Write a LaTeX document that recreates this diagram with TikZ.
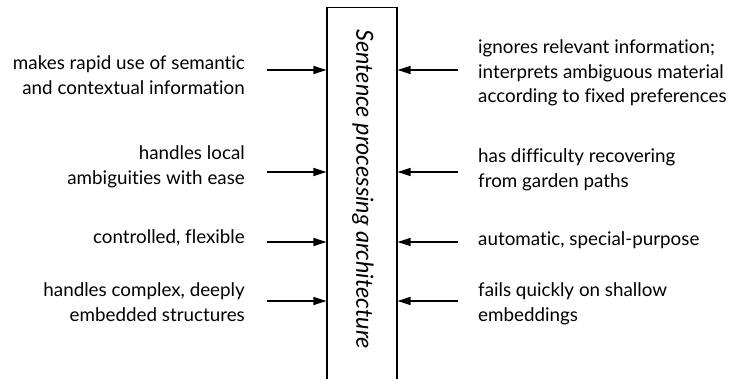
\documentclass[tikz,border=0pt]{standalone}
\usepackage{fontspec}
\setmainfont{Lato}[Ligatures=NoCommon]
\usetikzlibrary{arrows.meta}

\begin{document}
\begin{tikzpicture}[x=1pt,y=-1pt,
  feature/.style={inner sep=0pt,font=\fontsize{18.8}{24.5}\selectfont},
  leftfeat/.style={feature,anchor=east,align=right},
  rightfeat/.style={feature,anchor=west,align=left},
  archbox/.style={draw,line width=1.1pt,minimum width=70pt,minimum height=390pt,anchor=north},
  pointer/.style={line width=1.5pt,-{Triangle[length=13pt,width=8pt]}}]
  \useasboundingbox (0,0) rectangle (741,379);
  \clip (0,0) rectangle (741,379);

  \node[archbox] (arch) at (362,7) {};
  \node[rotate=-90,font=\fontsize{23.5}{25}\selectfont\itshape] (title) at (363,189)
    {Sentence processing architecture};

  % left column
  \node[leftfeat] (l1) at (245,75) {makes rapid use of semantic\\and contextual information};
  \node[leftfeat] (l2) at (245,167) {handles local\\ambiguities with ease};
  \node[leftfeat] (l3) at (245,238) {controlled, flexible};
  \node[leftfeat] (l4) at (245,302) {handles complex, deeply\\embedded structures};

  % right column
  \node[rightfeat] (r1) at (478,73) {ignores relevant information;\\interprets ambiguous material\\according to fixed preferences};
  \node[rightfeat] (r2) at (478,170) {has difficulty recovering\\from garden paths};
  \node[rightfeat] (r3) at (478,240) {automatic, special-purpose};
  \node[rightfeat] (r4) at (478,304) {fails quickly on shallow\\embeddings};

  \foreach \y [count=\i] in {70,172,242,301} {
    \coordinate (la\i) at (267,\y);
    \coordinate (ra\i) at (458,\y);
    \draw[pointer] (la\i) -- (la\i -| arch.west);
    \draw[pointer] (ra\i) -- (ra\i -| arch.east);
  }
\end{tikzpicture}
\end{document}
